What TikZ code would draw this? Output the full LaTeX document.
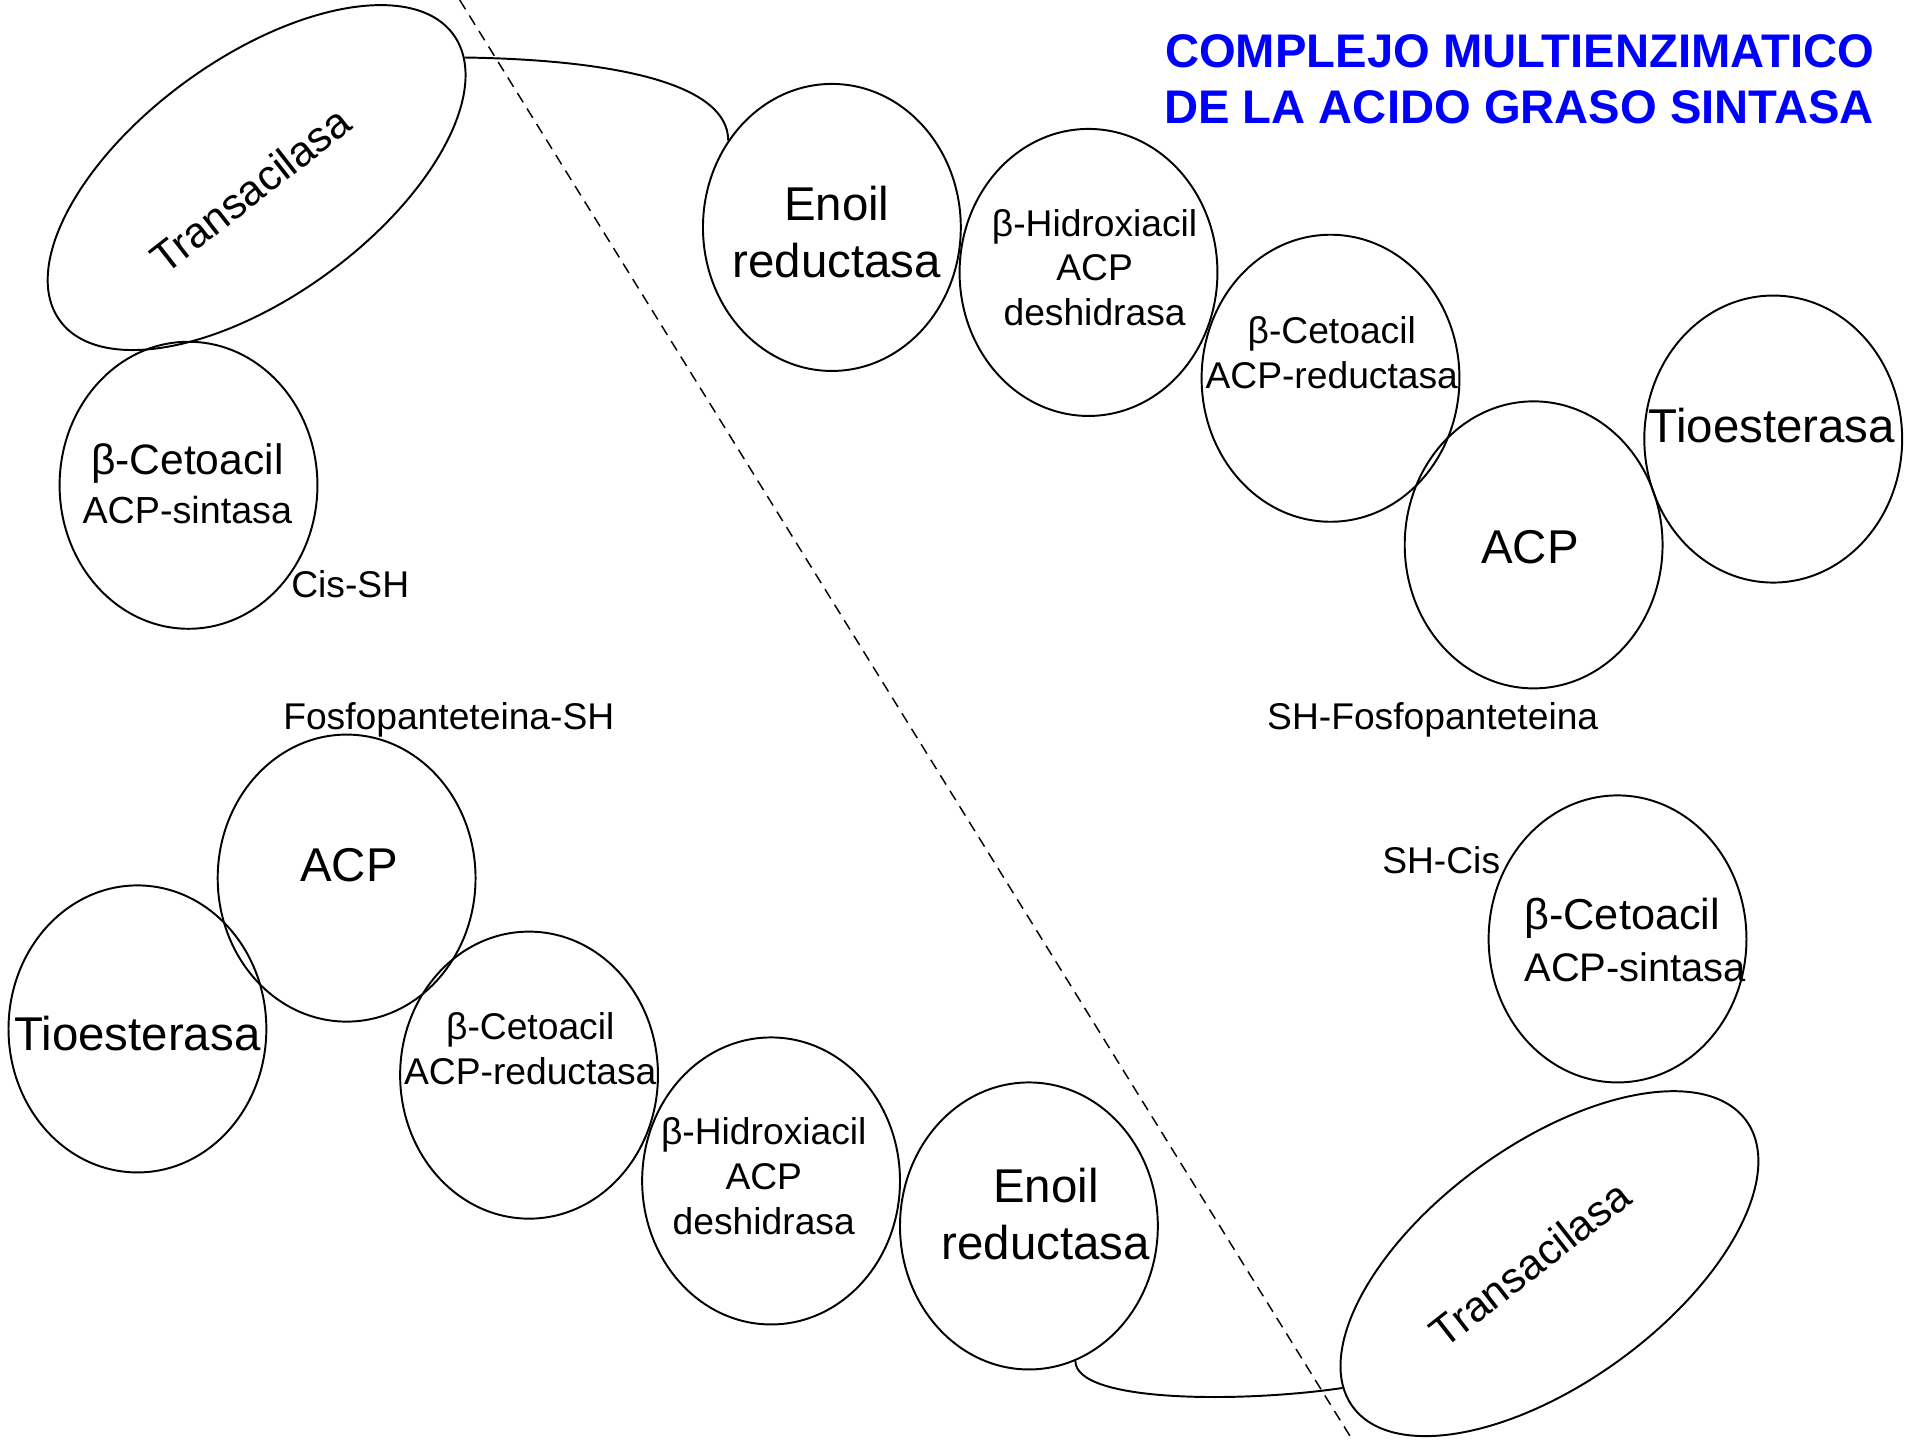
\documentclass[tikz,border=0pt]{standalone}
\usepackage{fontspec}
\setmainfont{Liberation Sans}
\usetikzlibrary{shapes.geometric}

\begin{document}
\begin{tikzpicture}[
  x=0.5pt, y=-0.5pt,
  enz/.style={draw, ellipse, line width=0.8pt, minimum width=106pt, minimum height=118pt, inner sep=0pt},
  tacil/.style={draw, ellipse, line width=0.8pt, minimum width=200pt, minimum height=98pt, inner sep=0pt, rotate=36},
  tacilname/.style={rotate=38, font=\fontsize{17.5}{21}\selectfont},
  big/.style={align=center, font=\fontsize{19.5}{23.5}\selectfont},
  small/.style={align=center, font=\fontsize{15.3}{18.4}\selectfont},
  link/.style={line width=0.8pt},
  sep/.style={line width=0.6pt, dash pattern=on 4.5pt off 3pt}
]
\useasboundingbox (0,0) rectangle (1568,1184);

\node[align=right, text=blue, font=\fontsize{19.4}{23}\selectfont\bfseries] (title) at (1249,65) {COMPLEJO MULTIENZIMATICO\\DE LA ACIDO GRASO SINTASA};

% upper complex
\node[tacil] (tacilA) at (211,146) {};
\node[enz] (sintA) at (155,399) {};
\node[enz] (enoilA) at (684,187) {};
\node[enz] (hidroxA) at (895,224) {};
\node[enz] (cetoRedA) at (1094,311) {};
\node[enz] (acpA) at (1261,448) {};
\node[enz] (tioA) at (1458,361) {};

\node[tacilname] (tacilAtxt) at (206,156) {Transacilasa};
\node[align=center, font=\fontsize{15.5}{20}\selectfont] (sintAtxt) at (154,398) {{\fontsize{17.5}{20}\selectfont β-Cetoacil}\\ACP-sintasa};
\node[big] (enoilAtxt) at (688,191) {Enoil\\reductasa};
\node[small] (hidroxAtxt) at (900,220) {β-Hidroxiacil\\ACP\\deshidrasa};
\node[small] (cetoRedAtxt) at (1095,290) {β-Cetoacil\\ACP-reductasa};
\node[big] (acpAtxt) at (1258,450) {ACP};
\node[big] (tioAtxt) at (1457,350) {Tioesterasa};

% lower complex
\node[tacil] (tacilB) at (1274,1039) {};
\node[enz] (sintB) at (1330,772) {};
\node[enz] (enoilB) at (846,1008) {};
\node[enz] (hidroxB) at (634,971) {};
\node[enz] (cetoRedB) at (435,884) {};
\node[enz] (acpB) at (285,722) {};
\node[enz] (tioB) at (113,846) {};

\node[tacilname] (tacilBtxt) at (1258,1039) {Transacilasa};
\node[align=left, anchor=west, inner sep=0pt, font=\fontsize{16.4}{21.5}\selectfont] (sintBtxt) at (1253,773) {{\fontsize{17.8}{21.5}\selectfont β-Cetoacil}\\ACP-sintasa};
\node[big] (enoilBtxt) at (860,998) {Enoil\\reductasa};
\node[small] (hidroxBtxt) at (628,967) {β-Hidroxiacil\\ACP\\deshidrasa};
\node[small] (cetoRedBtxt) at (436,862) {β-Cetoacil\\ACP-reductasa};
\node[big] (acpBtxt) at (287,711) {ACP};
\node[big] (tioBtxt) at (113,850) {Tioesterasa};

% thiol groups
\node[small] (cisL) at (288,480) {Cis-SH};
\node[small] (fosfoL) at (369,592) {Fosfopanteteina-SH};
\node[small] (fosfoR) at (1178,592) {SH-Fosfopanteteina};
\node[small] (cisR) at (1185,707) {SH-Cis};

% dividing line
\coordinate (sepTop) at (378,0);
\coordinate (sepBot) at (1112,1184);
\draw[sep] (sepTop) -- (sepBot);

\draw[link] (tacilA.354) .. controls +(130,2) and +(0,-45) .. (enoilA.140);
\draw[link] (enoilB.289) .. controls +(0,35) and +(-80,12) .. (tacilB.175);

\end{tikzpicture}
\end{document}
